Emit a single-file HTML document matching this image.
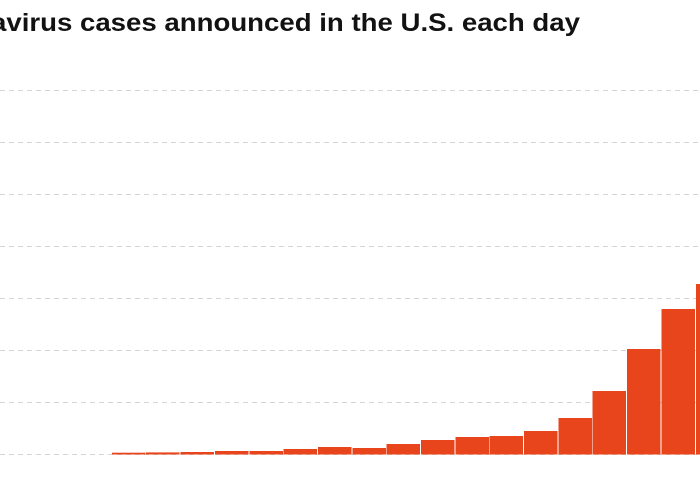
<!DOCTYPE html>
<html><head><meta charset="utf-8"><style>
html,body{margin:0;padding:0;background:#fff;width:700px;height:500px;overflow:hidden}
</style></head><body>
<svg width="700" height="500" viewBox="0 0 700 500" xmlns="http://www.w3.org/2000/svg">
<text x="-9" y="31" font-family="Liberation Sans Narrow, Liberation Sans, sans-serif" font-weight="bold" font-size="25" fill="#121212" textLength="589" lengthAdjust="spacingAndGlyphs">avirus cases announced in the U.S. each day</text>
<g stroke="#d4d4d4" stroke-width="1" stroke-dasharray="5,4">
<line x1="0" y1="90.5" x2="700" y2="90.5"/>
<line x1="0" y1="142.5" x2="700" y2="142.5"/>
<line x1="0" y1="194.5" x2="700" y2="194.5"/>
<line x1="0" y1="246.5" x2="700" y2="246.5"/>
<line x1="0" y1="298.5" x2="700" y2="298.5"/>
<line x1="0" y1="350.5" x2="700" y2="350.5"/>
<line x1="0" y1="402.5" x2="700" y2="402.5"/>
<line x1="0" y1="454.5" x2="700" y2="454.5"/>
</g>
<g fill="#e8451c">
<rect x="112" y="452.7" width="33.5" height="1.8"/>
<rect x="146" y="452.4" width="33.5" height="2.1"/>
<rect x="180.5" y="452" width="33.5" height="2.5"/>
<rect x="215" y="451" width="33.5" height="3.5"/>
<rect x="249.5" y="451" width="33.5" height="3.5"/>
<rect x="283.5" y="449" width="33.5" height="5.5"/>
<rect x="318" y="447" width="33.5" height="7.5"/>
<rect x="352.5" y="448" width="33.5" height="6.5"/>
<rect x="386.5" y="444" width="33.5" height="10.5"/>
<rect x="421" y="440" width="33.5" height="14.5"/>
<rect x="455.5" y="437" width="33.5" height="17.5"/>
<rect x="489.5" y="436" width="33.5" height="18.5"/>
<rect x="524" y="431" width="33.5" height="23.5"/>
<rect x="558.5" y="418" width="33.5" height="36.5"/>
<rect x="592.5" y="391" width="33.5" height="63.5"/>
<rect x="627" y="349" width="33.5" height="105.5"/>
<rect x="661.5" y="309" width="33.5" height="145.5"/>
<rect x="696" y="284" width="10" height="170.5"/>
</g>
</svg>
</body></html>
